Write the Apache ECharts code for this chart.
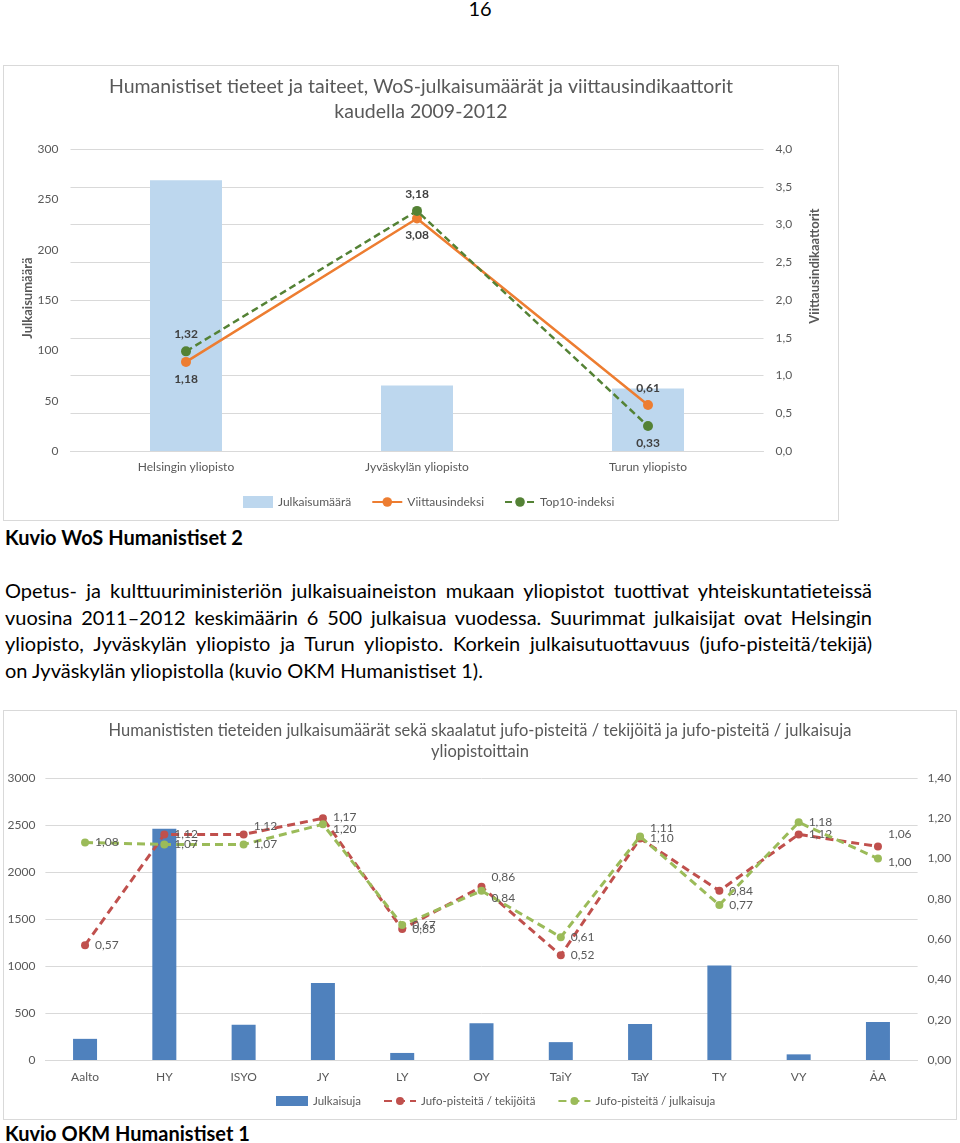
<!DOCTYPE html>
<html><head><meta charset="utf-8">
<script src="https://cdn.jsdelivr.net/npm/echarts@6/dist/echarts.min.js"></script>
<style>
html,body{margin:0;padding:0;background:#fff}
body{width:960px;height:1143px;position:relative;overflow:hidden;font-family:Lato,'Liberation Sans',sans-serif;color:#000}
.abs{position:absolute}
#c1{left:3px;top:65px;width:836px;height:456px;border:1px solid #d9d9d9;box-sizing:border-box}
#c2{left:3px;top:710px;width:954px;height:410px;border:1px solid #d9d9d9;box-sizing:border-box}
#pg{left:0;width:960px;top:-4px;text-align:center;font-size:20px;line-height:24px}
.cap{left:5px;font-weight:bold;font-size:20px;line-height:24px;white-space:nowrap}
#para{left:5px;top:577px;width:867px;font-size:20px;line-height:26.7px}
#para div{text-align:justify;text-align-last:justify;white-space:nowrap}
#para div.last{text-align-last:left}
</style></head>
<body>
<div id="pg" class="abs">16</div>
<div id="c1" class="abs"></div>
<div class="abs cap" style="top:525px">Kuvio WoS Humanistiset 2</div>
<div id="para" class="abs">
<div>Opetus- ja kulttuuriministeriön julkaisuaineiston mukaan yliopistot tuottivat yhteiskuntatieteissä</div>
<div>vuosina 2011–2012 keskimäärin 6 500 julkaisua vuodessa. Suurimmat julkaisijat ovat Helsingin</div>
<div>yliopisto, Jyväskylän yliopisto ja Turun yliopisto. Korkein julkaisutuottavuus (jufo-pisteitä/tekijä)</div>
<div class="last">on Jyväskylän yliopistolla (kuvio OKM Humanistiset 1).</div>
</div>
<div id="c2" class="abs"></div>
<div class="abs cap" style="top:1121px">Kuvio OKM Humanistiset 1</div>
<script>
// ---- Chart 1 data ----
const cats1 = ['Helsingin yliopisto', 'Jyväskylän yliopisto', 'Turun yliopisto'];
const julkaisumaara = [269, 65, 62];
const viittausindeksi = [1.18, 3.08, 0.61];
const top10indeksi = [1.32, 3.18, 0.33];
const leftTicks1 = [0, 300, 50];
const rightTicks1 = [0, 4, 0.5];

// ---- Chart 2 data ----
const cats2 = ['Aalto', 'HY', 'ISYO', 'JY', 'LY', 'OY', 'TaiY', 'TaY', 'TY', 'VY', 'ÅA'];
const julkaisuja = [225, 2460, 375, 820, 75, 390, 190, 383, 1005, 60, 404];
const jufoTekijoita = [0.57, 1.12, 1.12, 1.20, 0.65, 0.86, 0.52, 1.10, 0.84, 1.12, 1.06];
const jufoJulkaisuja = [1.08, 1.07, 1.07, 1.17, 0.67, 0.84, 0.61, 1.11, 0.77, 1.18, 1.00];
const leftTicks2 = [0, 3000, 500];
const rightTicks2 = [0, 1.4, 0.2];

const FONT = 'Lato, "Liberation Sans", sans-serif';
const comma = (v, d) => v.toFixed(d).replace('.', ',');

// label placement (style only)
const c1ViitPos = ['bottom', 'bottom', 'top'];
const c1TopPos = ['top', 'top', 'bottom'];
const c2RedOff = [[0,0],[0,0],[0,-8],[0,11],[0,0],[0,-10],[0,0],[0,0],[0,0],[0,0],[0,-12]];
const c2GreenOff = [[0,0],[0,0],[0,0],[0,-7],[0,0],[0,7],[0,0],[0,-8],[0,0],[0,0],[0,4]];

const ch1 = echarts.init(document.getElementById('c1'));
const lbl1 = {show: true, fontFamily: FONT, fontSize: 12, fontWeight: 'bold', color: '#404040', distance: 6,
  formatter: p => comma(p.value, 2)};
ch1.setOption({
  animation: false,
  textStyle: {fontFamily: FONT},
  title: {text: 'Humanistiset tieteet ja taiteet, WoS-julkaisumäärät ja viittausindikaattorit\nkaudella 2009-2012',
    left: 'center', top: 8, padding: 0,
    textStyle: {fontFamily: FONT, fontSize: 19.5, fontWeight: 'normal', color: '#595959', lineHeight: 25, align: 'center'}},
  legend: {top: 430, left: 239, padding: 0, itemGap: 20, itemWidth: 30, itemHeight: 12,
    textStyle: {fontFamily: FONT, fontSize: 12, color: '#595959'},
    data: [{name: 'Julkaisumäärä', icon: 'rect'}, 'Viittausindeksi', 'Top10-indeksi']},
  grid: {left: 66.5, right: 74.5, top: 83, bottom: 69, containLabel: false, outerBoundsMode: 'none'},
  xAxis: {type: 'category', data: cats1,
    axisLine: {show: true, lineStyle: {color: '#d9d9d9'}}, axisTick: {show: false},
    axisLabel: {fontFamily: FONT, fontSize: 12, color: '#595959', margin: 10}},
  yAxis: [
    {type: 'value', min: leftTicks1[0], max: leftTicks1[1], interval: leftTicks1[2],
      splitLine: {show: false}, axisLine: {show: false}, axisTick: {show: false},
      axisLabel: {fontFamily: FONT, fontSize: 12, color: '#595959', margin: 12, formatter: v => String(v)}},
    {type: 'value', min: rightTicks1[0], max: rightTicks1[1], interval: rightTicks1[2], position: 'right',
      splitLine: {show: true, lineStyle: {color: '#d9d9d9', width: 1}}, axisLine: {show: false}, axisTick: {show: false},
      axisLabel: {fontFamily: FONT, fontSize: 12, color: '#595959', margin: 12, formatter: v => comma(v, 1)}}
  ],
  graphic: [
    {type: 'text', x: 24, y: 232, rotation: Math.PI / 2,
      style: {text: 'Julkaisumäärä', fontFamily: FONT, fontSize: 13, fontWeight: 'bold', fill: '#595959', align: 'center', verticalAlign: 'middle'}},
    {type: 'text', x: 811, y: 200, rotation: Math.PI / 2,
      style: {text: 'Viittausindikaattorit', fontFamily: FONT, fontSize: 13, fontWeight: 'bold', fill: '#595959', align: 'center', verticalAlign: 'middle'}}
  ],
  series: [
    {name: 'Julkaisumäärä', type: 'bar', yAxisIndex: 0, data: julkaisumaara, barWidth: 72,
      itemStyle: {color: '#BDD7EE'}, z: 1},
    {name: 'Viittausindeksi', type: 'line', yAxisIndex: 1, symbol: 'circle', symbolSize: 10,
      lineStyle: {color: '#ED7D31', width: 2.5}, itemStyle: {color: '#ED7D31'}, z: 3,
      data: viittausindeksi.map((v, i) => ({value: v, label: Object.assign({}, lbl1, {position: c1ViitPos[i]})}))},
    {name: 'Top10-indeksi', type: 'line', yAxisIndex: 1, symbol: 'circle', symbolSize: 10,
      lineStyle: {color: '#548235', width: 2.5, type: [7, 4]}, itemStyle: {color: '#548235'}, z: 4,
      data: top10indeksi.map((v, i) => ({value: v, label: Object.assign({}, lbl1, {position: c1TopPos[i]})}))}
  ]
});

const ch2 = echarts.init(document.getElementById('c2'));
const lbl2 = {show: true, position: 'right', fontFamily: FONT, fontSize: 12, color: '#595959', distance: 6,
  formatter: p => comma(p.value, 2)};
ch2.setOption({
  animation: false,
  textStyle: {fontFamily: FONT},
  title: {text: 'Humanististen tieteiden julkaisumäärät sekä skaalatut jufo-pisteitä / tekijöitä ja jufo-pisteitä / julkaisuja\nyliopistoittain',
    left: 'center', top: 9, padding: 0,
    textStyle: {fontFamily: FONT, fontSize: 16.5, fontWeight: 'normal', color: '#595959', lineHeight: 21, align: 'center'}},
  legend: {top: 384, left: 272, padding: 0, itemGap: 22, itemWidth: 32, itemHeight: 10,
    textStyle: {fontFamily: FONT, fontSize: 11.5, color: '#595959'},
    data: [{name: 'Julkaisuja', icon: 'rect'}, 'Jufo-pisteitä / tekijöitä', 'Jufo-pisteitä / julkaisuja']},
  grid: {left: 41.4, right: 38.4, top: 67, bottom: 59, containLabel: false, outerBoundsMode: 'none'},
  xAxis: {type: 'category', data: cats2,
    axisLine: {show: true, lineStyle: {color: '#d9d9d9'}}, axisTick: {show: false},
    axisLabel: {fontFamily: FONT, fontSize: 12, color: '#595959', margin: 11}},
  yAxis: [
    {type: 'value', min: leftTicks2[0], max: leftTicks2[1], interval: leftTicks2[2],
      splitLine: {show: true, lineStyle: {color: '#d9d9d9', width: 1}}, axisLine: {show: false}, axisTick: {show: false},
      axisLabel: {fontFamily: FONT, fontSize: 12, color: '#595959', margin: 10, formatter: v => String(v)}},
    {type: 'value', min: rightTicks2[0], max: rightTicks2[1], interval: rightTicks2[2], position: 'right',
      splitLine: {show: false}, axisLine: {show: false}, axisTick: {show: false},
      axisLabel: {fontFamily: FONT, fontSize: 12, color: '#595959', margin: 10, formatter: v => comma(v, 2)}}
  ],
  series: [
    {name: 'Julkaisuja', type: 'bar', yAxisIndex: 0, data: julkaisuja, barWidth: 24,
      itemStyle: {color: '#4F81BD'}, z: 1},
    {name: 'Jufo-pisteitä / tekijöitä', type: 'line', yAxisIndex: 1, symbol: 'circle', symbolSize: 8,
      lineStyle: {color: '#C0504D', width: 3, type: [8, 5]}, itemStyle: {color: '#C0504D'}, z: 3,
      data: jufoTekijoita.map((v, i) => ({value: v, label: Object.assign({}, lbl2, {offset: c2RedOff[i]})}))},
    {name: 'Jufo-pisteitä / julkaisuja', type: 'line', yAxisIndex: 1, symbol: 'circle', symbolSize: 8,
      lineStyle: {color: '#9BBB59', width: 3, type: [8, 5]}, itemStyle: {color: '#9BBB59'}, z: 4,
      data: jufoJulkaisuja.map((v, i) => ({value: v, label: Object.assign({}, lbl2, {offset: c2GreenOff[i]})}))}
  ]
});
</script>
</body></html>
